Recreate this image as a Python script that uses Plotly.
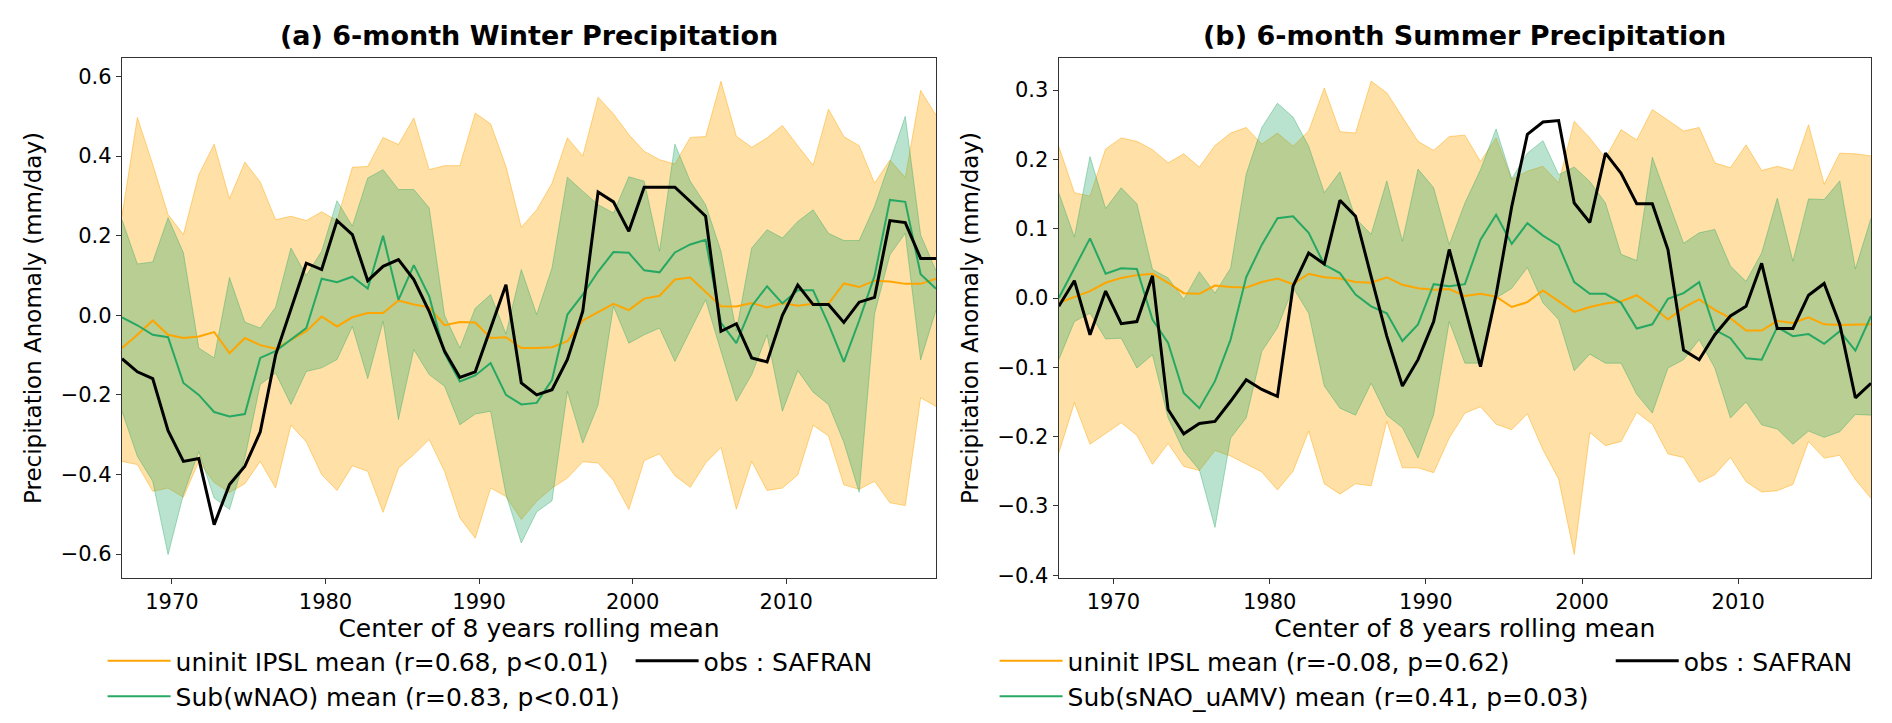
import plotly.graph_objects as go
from plotly.subplots import make_subplots

# centre year of each 8-year window
years_w = [y + 0.75 for y in range(1966, 2020)]
years_s = [y + 0.5 for y in range(1966, 2019)]

# (a) winter
w_obs = [-0.109, -0.142, -0.159, -0.29, -0.367, -0.36, -0.526, -0.425, -0.379, -0.293,
         -0.10, 0.015, 0.131, 0.115, 0.238, 0.203, 0.087, 0.123, 0.14, 0.09,
         0.01, -0.09, -0.156, -0.142, -0.032, 0.077, -0.17, -0.20, -0.187, -0.111,
         0.01, 0.31, 0.285, 0.211, 0.322, 0.322, 0.322, 0.286, 0.249, -0.04,
         -0.021, -0.107, -0.117, 0.0, 0.076, 0.027, 0.027, -0.018, 0.033, 0.045,
         0.238, 0.233, 0.143, 0.143]
w_sub = [-0.005, -0.025, -0.049, -0.055, -0.17, -0.20, -0.243, -0.254, -0.248, -0.107,
         -0.09, -0.061, -0.032, 0.092, 0.083, 0.097, 0.067, 0.20, 0.039, 0.126,
         0.048, -0.095, -0.166, -0.151, -0.12, -0.20, -0.224, -0.22, -0.162, 0.002,
         0.052, 0.11, 0.159, 0.157, 0.113, 0.108, 0.158, 0.178, 0.19, -0.019,
         -0.07, 0.023, 0.073, 0.03, 0.063, 0.063, -0.022, -0.117, -0.013, 0.099,
         0.29, 0.285, 0.103, 0.067]
w_ipsl = [-0.082, -0.049, -0.013, -0.049, -0.057, -0.053, -0.042, -0.095, -0.057, -0.075,
          -0.084, -0.061, -0.04, -0.003, -0.028, -0.005, 0.006, 0.006, 0.037, 0.027,
          0.02, -0.025, -0.017, -0.018, -0.057, -0.055, -0.082, -0.082, -0.08, -0.065,
          -0.013, 0.008, 0.029, 0.013, 0.042, 0.049, 0.09, 0.095, 0.06, 0.023,
          0.022, 0.031, 0.02, 0.031, 0.024, 0.029, 0.029, 0.08, 0.071, 0.087,
          0.085, 0.079, 0.079, 0.092]
w_ipsl_hi = [0.25, 0.497, 0.379, 0.253, 0.203, 0.353, 0.43, 0.293, 0.385, 0.335,
             0.24, 0.249, 0.238, 0.26, 0.238, 0.372, 0.374, 0.447, 0.429, 0.496,
             0.366, 0.376, 0.376, 0.508, 0.481, 0.374, 0.221, 0.265, 0.332, 0.446,
             0.40, 0.548, 0.506, 0.454, 0.412, 0.391, 0.38, 0.447, 0.449, 0.588,
             0.45, 0.422, 0.446, 0.477, 0.426, 0.377, 0.518, 0.449, 0.426, 0.332,
             0.39, 0.346, 0.565, 0.503]
w_ipsl_lo = [-0.367, -0.375, -0.442, -0.434, -0.457, -0.367, -0.42, -0.445, -0.423, -0.367,
             -0.434, -0.276, -0.318, -0.40, -0.44, -0.378, -0.392, -0.495, -0.384, -0.35,
             -0.312, -0.392, -0.509, -0.56, -0.434, -0.455, -0.513, -0.467, -0.434, -0.409,
             -0.368, -0.371, -0.415, -0.488, -0.365, -0.348, -0.403, -0.432, -0.371, -0.332,
             -0.487, -0.367, -0.44, -0.434, -0.401, -0.276, -0.303, -0.426, -0.437, -0.417,
             -0.471, -0.478, -0.207, -0.229]
w_sub_hi = [0.24, 0.129, 0.134, 0.245, 0.157, -0.082, -0.107, 0.095, -0.017, -0.032,
            0.02, 0.169, 0.10, 0.161, 0.288, 0.224, 0.345, 0.366, 0.316, 0.316,
            0.27, 0.0, -0.082, 0.018, 0.052, -0.047, 0.115, 0.002, 0.119, 0.347,
            0.312, 0.278, 0.257, 0.348, 0.337, 0.161, 0.43, 0.337, 0.278, 0.161,
            -0.04, 0.169, 0.215, 0.194, 0.236, 0.265, 0.206, 0.188, 0.188, 0.274,
            0.386, 0.50, 0.202, 0.112]
w_sub_lo = [-0.241, -0.354, -0.417, -0.601, -0.45, -0.342, -0.459, -0.488, -0.358, -0.174,
            -0.145, -0.224, -0.141, -0.132, -0.111, -0.028, -0.159, -0.015, -0.262, -0.086,
            -0.149, -0.178, -0.275, -0.248, -0.241, -0.45, -0.572, -0.494, -0.466, -0.191,
            -0.321, -0.225, 0.023, -0.07, -0.049, -0.032, -0.116, -0.04, 0.039, -0.09,
            -0.216, -0.149, -0.049, -0.241, -0.139, -0.193, -0.224, -0.319, -0.445, 0.004,
            0.152, 0.206, -0.112, 0.013]

# (b) summer
s_obs = [-0.012, 0.025, -0.053, 0.01, -0.037, -0.034, 0.032, -0.161, -0.196, -0.181,
         -0.178, -0.149, -0.118, -0.132, -0.142, 0.017, 0.065, 0.049, 0.141, 0.118,
         0.031, -0.055, -0.127, -0.089, -0.034, 0.07, -0.014, -0.099, 0.005, 0.132,
         0.236, 0.254, 0.256, 0.137, 0.109, 0.209, 0.18, 0.136, 0.136, 0.07,
         -0.075, -0.089, -0.053, -0.026, -0.012, 0.05, -0.044, -0.044, 0.004, 0.021,
         -0.038, -0.144, -0.123]
s_sub = [0.0, 0.043, 0.086, 0.035, 0.043, 0.042, -0.031, -0.065, -0.137, -0.159,
         -0.12, -0.06, 0.03, 0.077, 0.115, 0.118, 0.094, 0.048, 0.036, 0.005,
         -0.012, -0.022, -0.062, -0.038, 0.02, 0.017, 0.02, 0.084, 0.12, 0.078,
         0.108, 0.09, 0.076, 0.023, 0.006, 0.006, -0.007, -0.044, -0.038, -0.001,
         0.007, 0.023, -0.046, -0.058, -0.087, -0.089, -0.042, -0.055, -0.052, -0.066,
         -0.048, -0.076, -0.026]
s_ipsl = [-0.007, 0.002, 0.01, 0.022, 0.029, 0.033, 0.035, 0.022, 0.007, 0.006,
          0.018, 0.016, 0.015, 0.023, 0.028, 0.02, 0.035, 0.03, 0.028, 0.023,
          0.022, 0.03, 0.019, 0.014, 0.012, 0.013, 0.003, 0.006, 0.002, -0.013,
          -0.006, 0.011, -0.005, -0.02, -0.013, -0.008, -0.005, 0.004, -0.012, -0.031,
          -0.014, -0.002, -0.017, -0.029, -0.047, -0.047, -0.033, -0.036, -0.028, -0.038,
          -0.039, -0.038, -0.038]
s_ipsl_hi = [0.219, 0.152, 0.147, 0.215, 0.231, 0.226, 0.214, 0.195, 0.208, 0.189,
             0.22, 0.238, 0.246, 0.222, 0.238, 0.219, 0.241, 0.303, 0.24, 0.238,
             0.313, 0.296, 0.261, 0.226, 0.213, 0.233, 0.235, 0.197, 0.231, 0.171,
             0.183, 0.19, 0.166, 0.255, 0.231, 0.202, 0.243, 0.228, 0.272, 0.257,
             0.241, 0.246, 0.195, 0.188, 0.221, 0.184, 0.19, 0.184, 0.25, 0.164,
             0.209, 0.208, 0.205]
s_ipsl_lo = [-0.224, -0.151, -0.211, -0.195, -0.18, -0.198, -0.24, -0.21, -0.243, -0.249,
             -0.22, -0.228, -0.24, -0.251, -0.277, -0.25, -0.192, -0.268, -0.283, -0.268,
             -0.271, -0.178, -0.245, -0.245, -0.252, -0.202, -0.166, -0.157, -0.182, -0.19,
             -0.167, -0.219, -0.261, -0.37, -0.194, -0.213, -0.207, -0.165, -0.182, -0.225,
             -0.23, -0.266, -0.255, -0.23, -0.265, -0.28, -0.278, -0.269, -0.207, -0.231,
             -0.227, -0.262, -0.289]
s_sub_hi = [0.152, 0.088, 0.204, 0.129, 0.159, 0.136, 0.041, 0.029, -0.002, 0.038,
            0.007, 0.043, 0.179, 0.246, 0.281, 0.261, 0.219, 0.152, 0.182, 0.115,
            0.092, 0.169, 0.082, 0.186, 0.159, 0.077, 0.137, 0.185, 0.244, 0.172,
            0.209, 0.227, 0.178, 0.189, 0.168, 0.137, 0.063, 0.054, 0.203, 0.142,
            0.079, 0.094, 0.099, 0.046, 0.024, 0.065, 0.144, 0.053, 0.143, 0.142,
            0.169, 0.042, 0.115]
s_sub_lo = [-0.089, -0.034, -0.022, -0.059, -0.058, -0.101, -0.082, -0.173, -0.221, -0.248,
            -0.331, -0.202, -0.173, -0.077, -0.043, 0.015, -0.022, -0.127, -0.159, -0.169,
            -0.123, -0.169, -0.187, -0.231, -0.168, -0.034, -0.094, -0.094, 0.0, 0.014,
            0.044, -0.007, -0.031, -0.105, -0.081, -0.094, -0.094, -0.139, -0.166, -0.101,
            -0.089, -0.06, -0.101, -0.173, -0.15, -0.183, -0.189, -0.211, -0.192, -0.201,
            -0.193, -0.168, -0.169]

FONT = "DejaVu Sans"
ORANGE = "rgb(255,165,0)"
GREEN = "rgb(38,168,100)"


def add_panel(fig, col, x, ipsl_lo, ipsl_hi, sub_lo, sub_hi, ipsl, sub, obs,
              ipsl_name, sub_name, leg_a, leg_b):
    # ensemble spread, drawn as filled bands
    fig.add_trace(go.Scatter(x=x, y=ipsl_lo, mode="lines", showlegend=False,
                             line=dict(color="rgba(255,165,0,0.45)", width=1)), row=1, col=col)
    fig.add_trace(go.Scatter(x=x, y=ipsl_hi, mode="lines", showlegend=False, fill="tonexty",
                             fillcolor="rgba(255,165,0,0.35)",
                             line=dict(color="rgba(255,165,0,0.45)", width=1)), row=1, col=col)
    fig.add_trace(go.Scatter(x=x, y=sub_lo, mode="lines", showlegend=False,
                             line=dict(color="rgba(44,170,105,0.4)", width=1)), row=1, col=col)
    fig.add_trace(go.Scatter(x=x, y=sub_hi, mode="lines", showlegend=False, fill="tonexty",
                             fillcolor="rgba(44,170,105,0.33)",
                             line=dict(color="rgba(44,170,105,0.4)", width=1)), row=1, col=col)
    # means and observations
    fig.add_trace(go.Scatter(x=x, y=ipsl, mode="lines", name=ipsl_name, legend=leg_a,
                             line=dict(color=ORANGE, width=2)), row=1, col=col)
    fig.add_trace(go.Scatter(x=x, y=sub, mode="lines", name=sub_name, legend=leg_a,
                             line=dict(color=GREEN, width=2)), row=1, col=col)
    fig.add_trace(go.Scatter(x=x, y=obs, mode="lines", name="obs : SAFRAN", legend=leg_b,
                             line=dict(color="black", width=3)), row=1, col=col)


fig = make_subplots(rows=1, cols=2)

add_panel(fig, 1, years_w, w_ipsl_lo, w_ipsl_hi, w_sub_lo, w_sub_hi, w_ipsl, w_sub, w_obs,
          "uninit IPSL mean (r=0.68, p<0.01)", "Sub(wNAO) mean (r=0.83, p<0.01)",
          "legend", "legend2")
add_panel(fig, 2, years_s, s_ipsl_lo, s_ipsl_hi, s_sub_lo, s_sub_hi, s_ipsl, s_sub, s_obs,
          "uninit IPSL mean (r=-0.08, p=0.62)", "Sub(sNAO_uAMV) mean (r=0.41, p=0.03)",
          "legend3", "legend4")

axis_common = dict(showline=True, mirror=True, linecolor="#333", linewidth=1.3,
                   ticks="outside", ticklen=5, tickwidth=1.2, tickcolor="#333",
                   showgrid=False, zeroline=False,
                   tickfont=dict(family=FONT, size=21, color="black"))

fig.update_xaxes(axis_common)
fig.update_yaxes(axis_common)

xtitle = dict(text="Center of 8 years rolling mean", font=dict(family=FONT, size=25, color="black"),
              standoff=1)
ytitle = dict(text="Precipitation Anomaly (mm/day)", font=dict(family=FONT, size=23, color="black"),
              standoff=12)

fig.update_xaxes(domain=[0, 0.4654], range=[1966.75, 2019.75], tick0=1970, dtick=10,
                 title=xtitle, row=1, col=1)
fig.update_xaxes(domain=[0.5356, 1.0], range=[1966.5, 2018.5], tick0=1970, dtick=10,
                 title=xtitle, row=1, col=2)
fig.update_yaxes(range=[-0.66, 0.6465], tickvals=[-0.6, -0.4, -0.2, 0.0, 0.2, 0.4, 0.6],
                 tickformat=".1f", title=ytitle, row=1, col=1)
fig.update_yaxes(range=[-0.404, 0.3463], tickvals=[-0.4, -0.3, -0.2, -0.1, 0.0, 0.1, 0.2, 0.3],
                 tickformat=".1f", title=ytitle, row=1, col=2)

leg_font = dict(family=FONT, size=25, color="black")
leg_common = dict(font=leg_font, bgcolor="rgba(0,0,0,0)", borderwidth=0, itemwidth=63,
                  traceorder="normal", xanchor="left", yanchor="top", y=-0.1154,
                  tracegroupgap=0)

fig.update_layout(
    width=1892, height=723,
    margin=dict(l=114, r=29, t=50, b=153),
    paper_bgcolor="white", plot_bgcolor="white",
    font=dict(family=FONT, color="black"),
    legend=dict(leg_common, x=-0.0111),
    legend2=dict(leg_common, x=0.2908),
    legend3=dict(leg_common, x=0.4989),
    legend4=dict(leg_common, x=0.8512),
    annotations=[
        dict(text="<b>(a) 6-month Winter Precipitation</b>", x=0.2327, y=1, xref="paper", yref="paper",
             xanchor="center", yanchor="bottom", yshift=5, showarrow=False,
             font=dict(family=FONT, size=27, color="black")),
        dict(text="<b>(b) 6-month Summer Precipitation</b>", x=0.7678, y=1, xref="paper", yref="paper",
             xanchor="center", yanchor="bottom", yshift=5, showarrow=False,
             font=dict(family=FONT, size=27, color="black")),
    ],
)

fig.write_html("out.html")
